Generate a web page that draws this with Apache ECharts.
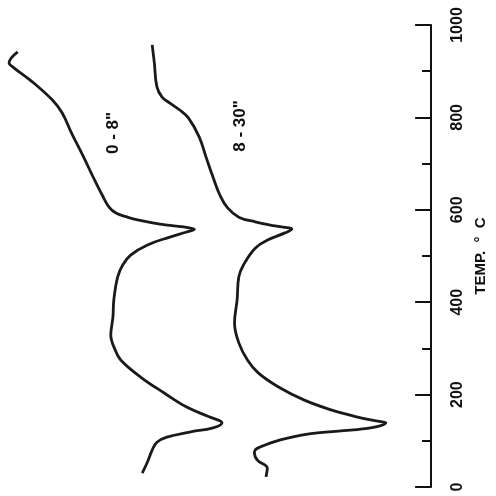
<!DOCTYPE html>
<html>
<head>
<meta charset="utf-8">
<script src="https://cdn.jsdelivr.net/npm/echarts@6/dist/echarts.min.js"></script>
<style>html,body{margin:0;padding:0;background:#fff}#c{width:496px;height:496px}</style>
</head>
<body>
<div id="c"></div>
<script>
// Temperature (°C) and DTA deflection (arbitrary units, 0-100)
var temp08 = [942,918,909,877,838,810,766,714,671,632,606,593,584,578,569,563,558,552,541,524,502,481,455,405,368,329,297,275,238,204,173,152,139,128,119,108,97,80,54,30];
var defl08 = [4.1,2.1,3.0,7.5,12.1,14.4,16.6,19.4,21.6,23.7,25.3,26.9,29.6,31.9,37.1,42.6,45.1,43.3,39.4,34.2,30.3,28.5,27.3,26.4,26.2,25.7,26.7,28.0,32.6,38.0,43.3,48.5,51.5,49.4,44.0,38.7,36.4,35.3,34.2,33.0];
var temp830 = [957,918,866,844,831,816,799,758,714,671,632,604,584,574,565,558,550,535,517,481,455,405,355,312,275,247,217,188,167,152,143,139,130,123,117,106,91,76,58,41,22];
var defl830 = [35.3,35.8,36.4,37.6,39.4,41.7,43.7,46.2,47.8,49.4,51.0,52.8,55.4,59.2,63.8,67.7,66.1,62.2,59.2,56.5,55.4,55.0,54.4,55.4,57.4,59.9,64.5,70.6,76.8,82.7,87.2,89.5,87.2,81.3,73.6,66.7,61.5,59.0,59.7,62.0,61.7];
var seriesNames = ['0 - 8"', '8 - 30"'];
var axisTitle = 'TEMP.  °  C';

function pairs(d, t) { return t.map(function (v, i) { return [d[i], v]; }); }

var FONT = 'Liberation Sans';
var chart = echarts.init(document.getElementById('c'), null, {renderer: 'canvas'});
chart.setOption({
  animation: false,
  backgroundColor: '#fff',
  grid: {left: 0, right: 57, top: 25, bottom: 9},
  xAxis: {type: 'value', min: 0, max: 100, show: false},
  yAxis: {
    type: 'value', position: 'right', min: 0, max: 1000, interval: 200,
    axisLine: {show: true, onZero: false, lineStyle: {color: '#111', width: 2}},
    axisTick: {show: true, inside: true, length: 16, lineStyle: {color: '#111', width: 2}},
    minorTick: {show: true, splitNumber: 2, length: 9, lineStyle: {color: '#111', width: 2}},
    splitLine: {show: false},
    axisLabel: {rotate: 90, margin: 18, color: '#111', fontFamily: FONT, fontWeight: 'bold', fontSize: 16,
      formatter: function (v) { return String(v); }},
    name: axisTitle, nameLocation: 'middle', nameRotate: 90, nameGap: 39,
    nameTextStyle: {color: '#111', fontFamily: FONT, fontWeight: 'bold', fontSize: 15}
  },
  series: [
    {name: seriesNames[0], type: 'line', data: pairs(defl08, temp08), showSymbol: false, smooth: 0.4,
      lineStyle: {color: '#1a1a1a', width: 2.8}},
    {name: seriesNames[1], type: 'line', data: pairs(defl830, temp830), showSymbol: false, smooth: 0.4,
      lineStyle: {color: '#1a1a1a', width: 2.8}}
  ],
  graphic: [
    {type: 'text', x: 113, y: 133, rotation: Math.PI / 2,
      style: {text: seriesNames[0], fill: '#111', font: 'bold 17px ' + FONT, align: 'center', verticalAlign: 'middle'}},
    {type: 'text', x: 240, y: 126, rotation: Math.PI / 2,
      style: {text: seriesNames[1], fill: '#111', font: 'bold 17px ' + FONT, align: 'center', verticalAlign: 'middle'}}
  ]
});
</script>
</body>
</html>
